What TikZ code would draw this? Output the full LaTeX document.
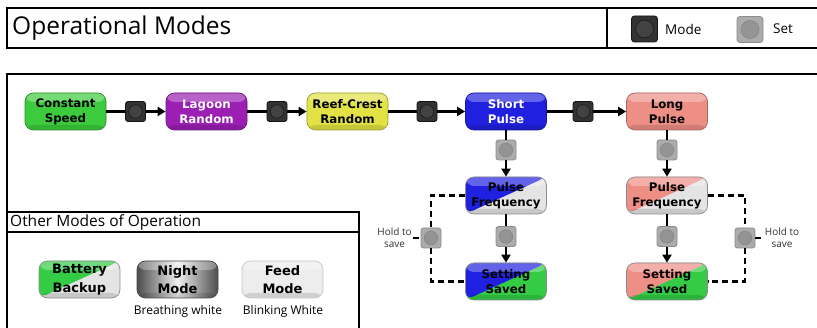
\documentclass[tikz,border=0pt]{standalone}
\usepackage{fontspec}
\setmainfont{Open Sans}
\newfontfamily\nodef{DejaVu Sans}
\usetikzlibrary{arrows.meta,calc}

\definecolor{cgreen}{HTML}{3CCB3C}
\definecolor{cpurple}{HTML}{9A1FB2}
\definecolor{cyellow}{HTML}{E2E244}
\definecolor{cblue}{HTML}{2020E0}
\definecolor{csalmon}{HTML}{EE8F86}
\definecolor{clight}{HTML}{E4E4E4}
\definecolor{csgreen}{HTML}{33CC44}

\newcommand\glossfx{%
  \fill[white,fill opacity=0.30] (path picture bounding box.north west) rectangle ([yshift=-9pt]path picture bounding box.north east);%
  \fill[black,fill opacity=0.12] ([yshift=5pt]path picture bounding box.south west) rectangle (path picture bounding box.south east);}

\tikzset{
  frame/.style={line width=1.8pt, black},
  mnode/.style={rounded corners=8.5pt, minimum width=81pt, minimum height=37pt, inner sep=0pt,
    align=center, line width=0.7pt, font=\nodef\bfseries\fontsize{11.8}{14.8}\selectfont},
  bnode/.style={mnode, font=\nodef\bfseries\fontsize{13}{18.5}\selectfont},
  solidc/.style={fill=#1, draw=#1!70!black, path picture={\glossfx}},
  splitc/.style 2 args={draw=black!45, path picture={%
      \fill[#2] (path picture bounding box.south west) rectangle (path picture bounding box.north east);
      \fill[#1] (path picture bounding box.south west) -- (path picture bounding box.north west)
         -- (path picture bounding box.north east) -- cycle;
      \glossfx}},
  modebtn/.style={draw=black!92, fill=black!80, rounded corners=2.5pt, minimum size=20pt,
    inner sep=0pt, line width=0.8pt, path picture={%
      \draw[black!90, fill=black!74, line width=0.6pt] (path picture bounding box.center) circle (6.8pt);}},
  setbtn/.style={draw=black!45, fill=black!33, rounded corners=2.5pt, minimum size=20pt,
    inner sep=0pt, line width=0.8pt, path picture={%
      \draw[black!48, fill=black!42, line width=0.6pt] (path picture bounding box.center) circle (6.8pt);}},
  flow/.style={line width=2.4pt, black},
  arr/.style={flow, -{Triangle[length=8pt,width=9pt]}},
  dashline/.style={line width=2.2pt, black, dash pattern=on 6pt off 4pt},
  holdtxt/.style={align=center, inner sep=1pt, font=\fontsize{10}{11.5}\selectfont, text=black!80},
  lbl/.style={font=\fontsize{12}{14}\selectfont},
}

\begin{document}
\begin{tikzpicture}[x=1pt,y=-1pt]
\useasboundingbox[fill=white] (0,0) rectangle (817,328);

% frames
\draw[frame] (7,8) rectangle (830,48);
\draw[frame] (607,8) -- (607,48);
\draw[frame] (7,74) rectangle (830,340);

\node[anchor=west, inner sep=0pt, font=\fontsize{24.5}{28}\selectfont] (title) at (12,28) {Operational Modes};

% legend
\node[modebtn, minimum size=26pt, rounded corners=3pt,
  path picture={\draw[black!90, fill=black!74, line width=0.6pt] (path picture bounding box.center) circle (9pt);}]
  (lgm) at (644.5,29) {};
\node[anchor=west, inner sep=0pt, font=\fontsize{13.5}{15}\selectfont] (lgmt) at (665,29) {Mode};
\node[setbtn, minimum size=26pt, rounded corners=3pt,
  path picture={\draw[black!48, fill=black!42, line width=0.6pt] (path picture bounding box.center) circle (9pt);}]
  (lgs) at (750,29.5) {};
\node[anchor=west, inner sep=0pt, font=\fontsize{13.5}{15}\selectfont] (lgst) at (773,29) {Set};

% main row
\node[mnode, solidc=cgreen] (cs) at (65.5,111.5) {Constant\\Speed};
\node[mnode, solidc=cpurple, text=white] (lag) at (206.5,111.5) {Lagoon\\Random};
\node[mnode, solidc=cyellow] (reef) at (347.5,111.5) {Reef-Crest\\Random};
\node[mnode, solidc=cblue, text=white] (sp) at (506,111.5) {Short\\Pulse};
\node[mnode, solidc=csalmon] (lp) at (667,111.5) {Long\\Pulse};

\node[modebtn] (b1) at (135.5,111.5) {};
\node[modebtn] (b2) at (277,111.5) {};
\node[modebtn] (b3) at (427,111.5) {};
\node[modebtn] (b4) at (583,111.5) {};

\draw[flow] (cs) -- (b1);  \draw[arr] (b1) -- (lag);
\draw[flow] (lag) -- (b2); \draw[arr] (b2) -- (reef);
\draw[flow] (reef) -- (b3); \draw[arr] (b3) -- (sp);
\draw[flow] (sp) -- (b4);  \draw[arr] (b4) -- (lp);

% short pulse column
\node[setbtn] (s1) at (506,150) {};
\node[mnode, splitc={cblue}{clight}] (pf1) at (506,195.5) {Pulse\\Frequency};
\node[setbtn] (s2) at (506,236.5) {};
\node[mnode, splitc={cblue}{csgreen}] (ss1) at (506,281.5) {Setting\\Saved};
\draw[flow] (sp) -- (s1); \draw[arr] (s1) -- (pf1);
\draw[flow] (pf1) -- (s2); \draw[arr] (s2) -- (ss1);

% long pulse column
\node[setbtn] (s3) at (667,150) {};
\node[mnode, splitc={csalmon}{clight}] (pf2) at (667,195.5) {Pulse\\Frequency};
\node[setbtn] (s4) at (667,236.5) {};
\node[mnode, splitc={csalmon}{csgreen}] (ss2) at (667,281.5) {Setting\\Saved};
\draw[flow] (lp) -- (s3); \draw[arr] (s3) -- (pf2);
\draw[flow] (pf2) -- (s4); \draw[arr] (s4) -- (ss2);

% hold-to-save loops
\node[setbtn] (lb1) at (431,238) {};
\node[setbtn] (lb2) at (745,238) {};
\draw[dashline] (pf1.west) -| (lb1.north);
\draw[dashline] (lb1.south) |- (ss1.west);
\draw[dashline] (pf2.east) -| (lb2.north);
\draw[dashline] (lb2.south) |- (ss2.east);
\node[holdtxt] (h1) at (394.5,238) {Hold to\\save};
\node[holdtxt] (h2) at (782,238) {Hold to\\save};
\draw[dashline] (h1.east) -- (lb1.west);
\draw[dashline] (lb2.east) -- (h2.west);

% other modes box
\draw[frame, fill=white] (7,212) rectangle (359,340);
\draw[frame] (7,232) -- (359,232);
\node[anchor=west, inner sep=0pt, font=\fontsize{15.5}{18}\selectfont] (om) at (10,222.5) {Other Modes of Operation};

\node[bnode, splitc={csgreen}{clight}] (bb) at (79.5,279.5) {Battery\\Backup};
\node[bnode, left color=black!70, right color=black!70, middle color=black!6, draw=black!72,
  path picture={\glossfx}] (nm) at (177.5,279.5) {Night\\Mode};
\node[bnode, fill=black!7, draw=black!22, path picture={\glossfx}] (fm) at (282.5,279.5) {Feed\\Mode};
\node[lbl] (nml) at (178,311) {Breathing white};
\node[lbl] (fml) at (283,311) {Blinking White};

\end{tikzpicture}
\end{document}
